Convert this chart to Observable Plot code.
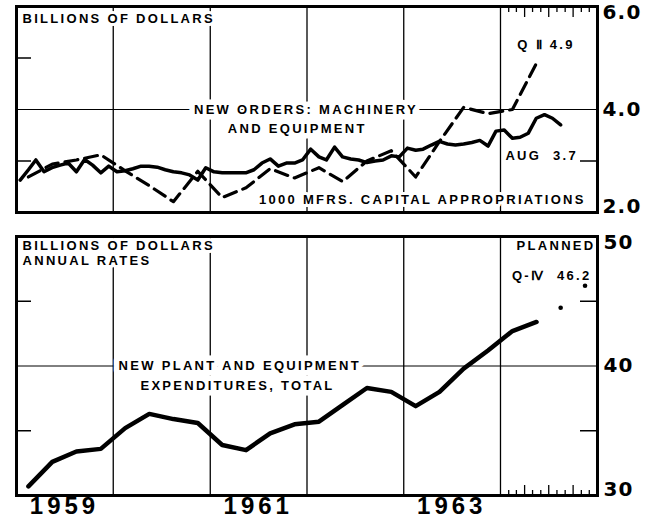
<!DOCTYPE html>
<html><head><meta charset="utf-8">
<script src="https://cdn.jsdelivr.net/npm/d3@7"></script>
<script src="https://cdn.jsdelivr.net/npm/@observablehq/plot@0.6"></script>
<style>
body{margin:0;background:#fff;}
#wrap{position:relative;width:658px;height:521px;overflow:hidden;background:#fff;}
#title{position:absolute;left:10px;top:-19px;font:bold 22px/22px "Liberation Sans";letter-spacing:2.5px;z-index:2;white-space:nowrap;}
#wrap svg{display:block;}
g[font-size="13"]{letter-spacing:2.3px;}
g[font-size="20"]{letter-spacing:1.2px;}
g[font-size="24"]{letter-spacing:4px;}
</style></head><body>
<div id="wrap"><div id="title">BUSINESS INVESTMENT</div><div id="topPanel"></div><div id="bottomPanel"></div></div>
<script>
// ---------- data ----------
const yearLabels = ["1959", "1961", "1963"];
const yearBoundaries = [1960, 1961, 1962, 1963, 1964];
// New orders: machinery and equipment, monthly Jan 1959 - Aug 1964 (billions of dollars)
const newOrders = [
  2.63, 2.83, 3.02, 2.79, 2.87, 2.92, 2.96, 2.79, 3.03, 2.92, 2.77, 2.90,
  2.79, 2.81, 2.85, 2.90, 2.90, 2.88, 2.83, 2.79, 2.77, 2.73, 2.63, 2.87,
  2.79, 2.77, 2.77, 2.77, 2.77, 2.83, 2.96, 3.04, 2.90, 2.96, 2.96, 3.02,
  3.23, 3.08, 3.02, 3.27, 3.08, 3.04, 3.02, 2.97, 3.00, 3.02, 3.10, 3.08,
  3.25, 3.21, 3.23, 3.31, 3.38, 3.33, 3.31, 3.33, 3.36, 3.40, 3.29, 3.58,
  3.60, 3.44, 3.46, 3.54, 3.83, 3.90, 3.83, 3.70
];
// 1000 mfrs. capital appropriations, quarterly Q1 1959 - Q2 1964
const appropriations = [
  2.69, 2.94, 3.02, 3.12,
  2.81, 2.52, 2.21, 2.80,
  2.29, 2.48, 2.85, 2.67,
  2.87, 2.60, 3.00, 3.20,
  2.69, 3.38, 4.04, 3.92,
  4.00, 4.90
];
// New plant and equipment expenditures, total, quarterly Q1 1959 - Q2 1964 (annual rates)
const expenditures = [
  30.7, 32.6, 33.4, 33.6,
  35.2, 36.3, 35.9, 35.6,
  33.9, 33.5, 34.8, 35.5,
  35.7, 37.0, 38.3, 38.0,
  36.9, 38.0, 39.8, 41.2,
  42.7, 43.4
];
// Planned Q3, Q4 1964
const plannedValues = [44.5, 46.2];
const topTicks = [6.0, 4.0, 2.0];
const bottomTicks = [50, 40, 30];

// ---------- helpers ----------
const t0 = new Date(Date.UTC(1959, 0, 1));
const t1 = new Date(Date.UTC(1965, 0, 1));
const dec = v => new Date(t0.getTime() + (v - 1959) * 365.25 * 864e5);
const monthStarts = d3.utcMonths(t0, new Date(Date.UTC(1964, 8, 1)));
const quarterStarts = d3.utcMonths(t0, new Date(Date.UTC(1964, 6, 1)), 3);
const ordersData = newOrders.map((v, i) => ({date: d3.utcDay.offset(monthStarts[i], 14), value: v}));
const approData = appropriations.map((v, i) => ({date: d3.utcDay.offset(quarterStarts[i], 45), value: v}));
const expData = expenditures.map((v, i) => ({date: d3.utcDay.offset(quarterStarts[i], 45), value: v}));
const plannedData = plannedValues.map((v, i) => ({date: d3.utcDay.offset(new Date(Date.UTC(1964, 6 + 3 * i, 1)), 45), value: v}));
const yearLines = yearBoundaries.map(y => new Date(Date.UTC(y, 0, 1)));
const months64 = d3.utcMonths(new Date(Date.UTC(1964, 1, 1)), new Date(Date.UTC(1964, 11, 2)));
const shortMonths = months64.filter(d => d.getUTCMonth() % 3 !== 0);
const longMonths = months64.filter(d => d.getUTCMonth() % 3 === 0);
const yearLabelData = yearLabels.map(s => ({date: new Date(Date.UTC(+s, 6, 1)), text: s}));

const W = 658, ML = 16, MR = 61;
const FW = W - ML - MR;
const F = "Liberation Sans";
const halo = {fill: "black", stroke: "white", strokeWidth: 6, paintOrder: "stroke", fontFamily: F, fontWeight: "bold", fontSize: 13};
const wideHalo = {...halo, strokeWidth: 11};
const axisFont = {fontSize: 20, fontWeight: "bold", fontFamily: "DejaVu Sans"};

// ---------- top panel ----------
const topH = 220, topMT = 6, topMB = 8, topFH = topH - topMT - topMB;
const topNotes = [
  {x: dec(1961.99), y: 4.0, text: "NEW ORDERS: MACHINERY"},
  {x: dec(1961.90), y: 3.62, text: "AND EQUIPMENT"}
];
const topChart = Plot.plot({
  width: W, height: topH, marginLeft: ML, marginRight: MR, marginTop: topMT, marginBottom: topMB,
  x: {type: "utc", domain: [t0, t1], axis: null},
  y: {domain: [2, 6], axis: null},
  marks: [
    Plot.ruleX(yearLines, {strokeWidth: 1.3}),
    Plot.ruleY([4], {strokeWidth: 1}),
    Plot.tickY([5, 3], {insetRight: FW - 15, strokeWidth: 1.5}),
    Plot.tickY([3], {insetLeft: FW - 17, strokeWidth: 1.5}),
    Plot.tickX(shortMonths, {insetBottom: topFH - 6, strokeWidth: 1.3}),
    Plot.tickX(longMonths, {insetBottom: topFH - 11, strokeWidth: 1.3}),
    Plot.text(["BILLIONS OF DOLLARS"], {...halo, frameAnchor: "top-left", dx: 6, dy: 7, lineAnchor: "top"}),
    Plot.text(topNotes, {...wideHalo, x: "x", y: "y", text: "text", textAnchor: "middle"}),
    Plot.text(["1000 MFRS. CAPITAL APPROPRIATIONS"], {...halo, x: dec(1964.88), y: 2.25, textAnchor: "end"}),
    Plot.text(["Q \u2161 4.9"], {...halo, x: dec(1964.47), y: 5.25, textAnchor: "middle"}),
    Plot.text(["AUG  3.7"], {...halo, x: dec(1964.05), y: 3.1, textAnchor: "start"}),
    Plot.line(approData, {x: "date", y: "value", strokeWidth: 3.2, strokeDasharray: "13,7"}),
    Plot.line(ordersData, {x: "date", y: "value", strokeWidth: 3.5, strokeLinejoin: "round"}),
    Plot.frame({strokeWidth: 3}),
    Plot.text([topTicks[0]], {...axisFont, frameAnchor: "right", y: d => d, text: d => d.toFixed(1), textAnchor: "start", dx: 5, dy: -2, lineAnchor: "top"}),
    Plot.text([topTicks[1]], {...axisFont, frameAnchor: "right", y: d => d, text: d => d.toFixed(1), textAnchor: "start", dx: 5, lineAnchor: "middle"}),
    Plot.text([topTicks[2]], {...axisFont, frameAnchor: "right", y: d => d, text: d => d.toFixed(1), textAnchor: "start", dx: 5, lineAnchor: "bottom"})
  ]
});
document.getElementById("topPanel").append(topChart);

// ---------- bottom panel ----------
const botH = 301, botMT = 16, botMB = 26, botFH = botH - botMT - botMB;
const botNotes = [
  {x: dec(1960.054), y: 40.0, text: "NEW PLANT AND EQUIPMENT"},
  {x: dec(1960.28), y: 38.5, text: "EXPENDITURES, TOTAL"}
];
const bottomChart = Plot.plot({
  width: W, height: botH, marginLeft: ML, marginRight: MR, marginTop: botMT, marginBottom: botMB,
  x: {type: "utc", domain: [t0, t1], axis: null},
  y: {domain: [30, 50], axis: null},
  marks: [
    Plot.ruleX(yearLines, {strokeWidth: 1.3}),
    Plot.ruleY([40], {strokeWidth: 1}),
    Plot.tickY([45, 35], {insetRight: FW - 15, strokeWidth: 1.5}),
    Plot.tickY([45, 35], {insetLeft: FW - 17, strokeWidth: 1.5}),
    Plot.tickX(shortMonths, {insetTop: botFH - 5, strokeWidth: 1.3}),
    Plot.tickX(longMonths, {insetTop: botFH - 10, strokeWidth: 1.3}),
    Plot.text(["BILLIONS OF DOLLARS"], {...halo, frameAnchor: "top-left", dx: 6, dy: 4, lineAnchor: "top"}),
    Plot.text(["ANNUAL RATES"], {...halo, frameAnchor: "top-left", dx: 6, dy: 19, lineAnchor: "top"}),
    Plot.text(["PLANNED"], {...halo, frameAnchor: "top-right", dx: -2, dy: 4, lineAnchor: "top", textAnchor: "end"}),
    Plot.text(["Q-\u2163  46.2"], {...halo, x: dec(1964.94), y: 47.0, textAnchor: "end"}),
    Plot.text(botNotes, {...wideHalo, x: "x", y: "y", text: "text", textAnchor: "start"}),
    Plot.line(expData, {x: "date", y: "value", strokeWidth: 4.5, strokeLinejoin: "round", strokeLinecap: "round"}),
    Plot.dot(plannedData, {x: "date", y: "value", r: 2.3, fill: "black"}),
    Plot.frame({strokeWidth: 3}),
    Plot.text([bottomTicks[0]], {...axisFont, frameAnchor: "right", y: d => d, text: d => String(d), textAnchor: "start", dx: 6, dy: -2, lineAnchor: "top"}),
    Plot.text([bottomTicks[1]], {...axisFont, frameAnchor: "right", y: d => d, text: d => String(d), textAnchor: "start", dx: 6, lineAnchor: "middle"}),
    Plot.text([bottomTicks[2]], {...axisFont, frameAnchor: "right", y: d => d, text: d => String(d), textAnchor: "start", dx: 6, lineAnchor: "bottom"}),
    Plot.text(yearLabelData, {x: "date", text: "text", frameAnchor: "bottom", lineAnchor: "top", dy: 1, fontSize: 24, fontWeight: "bold", fontFamily: F})
  ]
});
document.getElementById("bottomPanel").append(bottomChart);
</script></body></html>
